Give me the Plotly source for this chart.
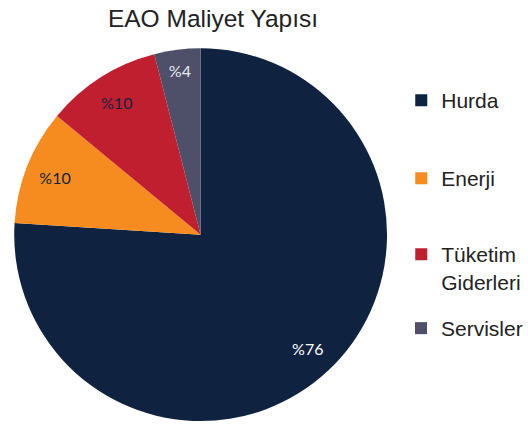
import plotly.graph_objects as go

categories = ["Hurda", "Enerji", "Tüketim Giderleri", "Servisler"]
legend_labels = ["Hurda", "Enerji", "Tüketim<br>Giderleri", "Servisler"]
values = [76, 10, 10, 4]
colors = ["#0f2341", "#f68b1f", "#c01f30", "#4e4f68"]
text_colors = ["#ffffff", "#0f2341", "#0f2341", "#e8e8ee"]

W, H = 528, 426
pie_domain = dict(x=[14.5 / W, 394.5 / W], y=[1.3 / H, 381.3 / H])

fig = go.Figure()
# filled pie
fig.add_trace(go.Pie(
    labels=categories,
    values=values,
    marker=dict(colors=colors, line=dict(width=0)),
    sort=False,
    direction="clockwise",
    rotation=0,
    textinfo="none",
    showlegend=False,
    hoverinfo="label+percent",
    domain=pie_domain,
))
# transparent ring carrying the labels near the rim
fig.add_trace(go.Pie(
    labels=categories,
    values=values,
    hole=0.68,
    marker=dict(colors=["rgba(0,0,0,0)"] * len(values), line=dict(width=0)),
    sort=False,
    direction="clockwise",
    rotation=0,
    texttemplate="%%{value}",
    textposition="inside",
    insidetextorientation="horizontal",
    textfont=dict(family="Lato", size=16, color=text_colors),
    showlegend=False,
    hoverinfo="skip",
    domain=pie_domain,
))

legend_tops = [80, 158, 234, 308]
legend_names = ["legend", "legend2", "legend3", "legend4"]
for lab, c, lg in zip(legend_labels, colors, legend_names):
    fig.add_trace(go.Scatter(
        x=[None], y=[None], mode="markers",
        marker=dict(symbol="square", size=12, color=c),
        name=lab, legend=lg, showlegend=True,
    ))

legend_style = dict(font=dict(family="Liberation Sans", size=21, color="#222222"),
                    valign="top", itemsizing="constant", bgcolor="rgba(0,0,0,0)",
                    xanchor="left", yanchor="top")
layout_legends = {}
for lg, top in zip(legend_names, legend_tops):
    layout_legends[lg] = dict(x=409 / W, y=1 - top / H, **legend_style)

fig.update_layout(
    width=W, height=H,
    margin=dict(l=0, r=0, t=0, b=0),
    paper_bgcolor="white", plot_bgcolor="white",
    title=dict(text="EAO Maliyet Yapısı", x=213 / W, xanchor="center",
               y=1 - 18 / H, yanchor="middle",
               font=dict(family="Liberation Sans", size=24.5, color="#222222")),
    xaxis=dict(visible=False), yaxis=dict(visible=False),
    **layout_legends,
)

fig.write_html("out.html", config={"displayModeBar": False},
               post_script="document.body.style.margin='0';")
